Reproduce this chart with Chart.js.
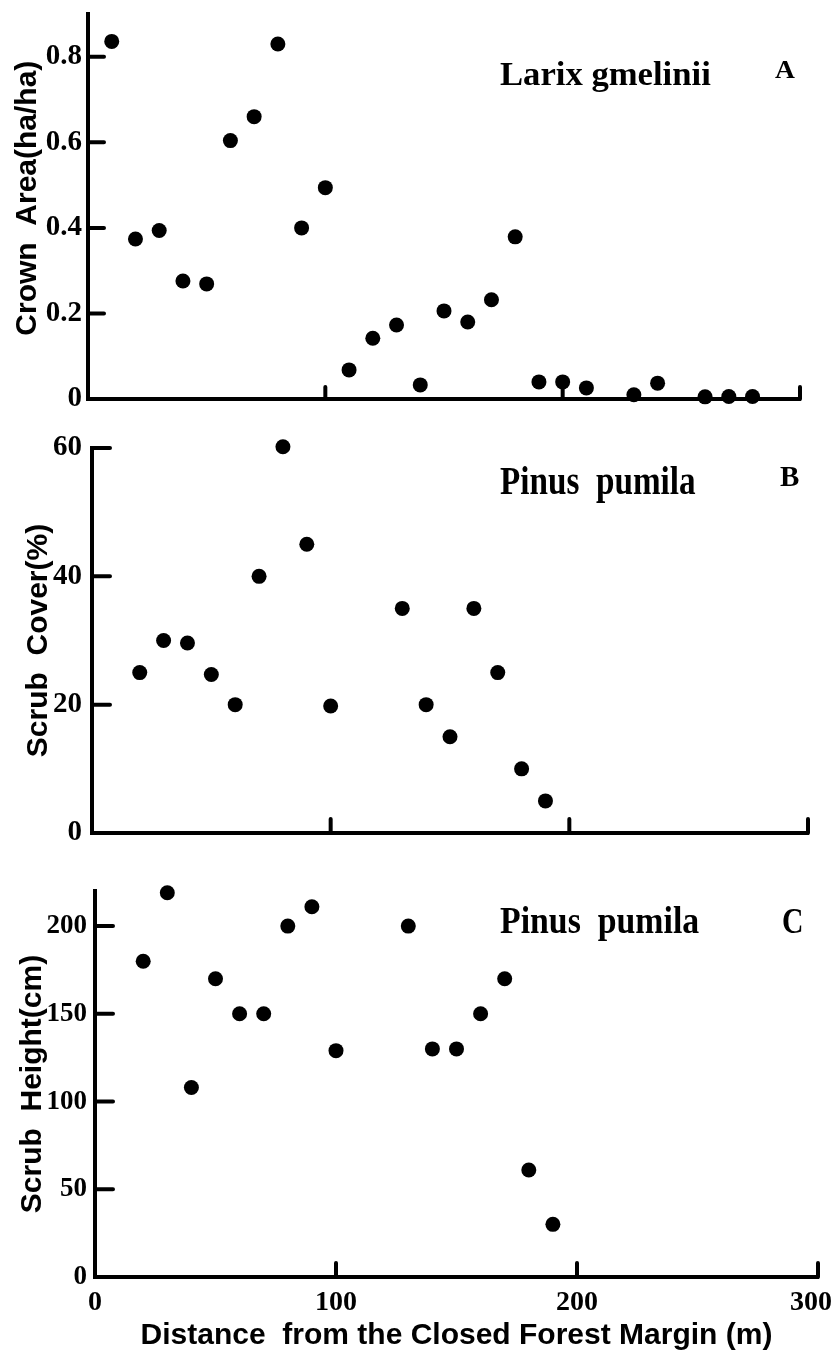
<!DOCTYPE html>
<html>
<head>
<meta charset="utf-8">
<script src="https://cdn.jsdelivr.net/npm/chart.js@4.4.1/dist/chart.umd.min.js"></script>
<style>
  body { margin: 0; background: #fff; width: 834px; height: 1356px; position: relative; overflow: hidden; }
  canvas { position: absolute; left: 0; }
</style>
</head>
<body>
<canvas id="chartA" width="834" height="420" style="top:0"></canvas>
<canvas id="chartB" width="834" height="440" style="top:420px"></canvas>
<canvas id="chartC" width="834" height="496" style="top:860px"></canvas>
<script>
// distances (m) and values
const crownX = [10, 20, 30, 40, 50, 60, 70, 80, 90, 100, 110, 120, 130, 140, 150, 160, 170, 180, 190, 200, 210, 230, 240, 260, 270, 280];
const crownY = [0.836, 0.374, 0.394, 0.276, 0.269, 0.604, 0.66, 0.83, 0.40, 0.494, 0.068, 0.142, 0.173, 0.033, 0.206, 0.18, 0.232, 0.379, 0.04, 0.04, 0.026, 0.01, 0.037, 0.005, 0.006, 0.006];

const coverX = [20, 30, 40, 50, 60, 70, 80, 90, 100, 130, 140, 150, 160, 170, 180, 190];
const coverY = [25, 30, 29.6, 24.7, 20, 40, 60.2, 45, 19.8, 35, 20, 15, 35, 25, 10, 5];

const heightX = [20, 30, 40, 50, 60, 70, 80, 90, 100, 130, 140, 150, 160, 170, 180, 190];
const heightY = [180, 219, 108, 170, 150, 150, 200, 211, 129, 200, 130, 130, 150, 170, 61, 30];

const distTicks = [0, 100, 200, 300];
const crownTicks = [0, 0.2, 0.4, 0.6, 0.8];
const coverTicks = [0, 20, 40, 60];
const heightTicks = [0, 50, 100, 150, 200];

const serif = "'Liberation Serif', 'Times New Roman', serif";
const sans = "'Liberation Sans', Arial, sans-serif";

// short tick marks pointing into the plot
const innerTicks = {
    id: 'innerTicks',
    beforeDatasetsDraw(chart, args, opts) {
        const ctx = chart.ctx;
        const xs = chart.scales.x, ys = chart.scales.y;
        ctx.save();
        ctx.strokeStyle = '#000';
        ctx.lineWidth = opts.width;
        ctx.lineCap = 'round';
        ctx.beginPath();
        opts.y.forEach(v => {
            const py = ys.getPixelForValue(v);
            ctx.moveTo(xs.left, py);
            ctx.lineTo(xs.left + opts.yLen, py);
        });
        opts.x.forEach(v => {
            const px = xs.getPixelForValue(v);
            ctx.moveTo(px, ys.bottom);
            ctx.lineTo(px, ys.bottom - opts.xLen);
        });
        ctx.stroke();
        ctx.restore();
    }
};

// species name and panel letter
const panelText = {
    id: 'panelText',
    afterDraw(chart, args, opts) {
        const ctx = chart.ctx;
        (opts.items || []).forEach(it => {
            ctx.save();
            ctx.font = it.font;
            ctx.fillStyle = '#000';
            ctx.textBaseline = 'alphabetic';
            ctx.translate(it.x, it.y);
            ctx.scale(it.sx || 1, 1);
            ctx.fillText(it.text, 0, 0);
            ctx.restore();
        });
    }
};

function makePanel(id, xs, ys, cfg) {
    const points = xs.map((x, i) => ({ x: x, y: ys[i] }));
    const canvas = document.getElementById(id);
    return new Chart(canvas, {
        type: 'scatter',
        data: {
            datasets: [{
                data: points,
                backgroundColor: '#000',
                borderWidth: 0,
                pointRadius: 7.5,
                pointHoverRadius: 7.5,
                clip: false
            }]
        },
        options: {
            responsive: false,
            animation: false,
            devicePixelRatio: 1,
            layout: { padding: { left: 0, top: cfg.top, right: canvas.width - cfg.right, bottom: 0 } },
            plugins: {
                legend: { display: false },
                tooltip: { enabled: false },
                innerTicks: { x: [100, 200, 300], y: cfg.yTicks.filter(v => v > 0), xLen: cfg.xLen, yLen: cfg.yLen, width: 4 },
                panelText: { items: cfg.labels }
            },
            scales: {
                x: {
                    type: 'linear',
                    min: 0,
                    max: 300,
                    grid: { display: false, drawTicks: false },
                    border: { display: true, color: '#000', width: 4 },
                    afterBuildTicks: s => { s.ticks = distTicks.map(v => ({ value: v })); },
                    afterFit: s => {
                        s.height = canvas.height - cfg.bottom;
                        s.paddingLeft = 0;
                        s.paddingRight = 0;
                    },
                    ticks: {
                        display: cfg.showX,
                        padding: 9,
                        color: '#000',
                        maxRotation: 0,
                        font: { family: serif, size: 28, weight: 'bold' },
                        // last label sits a little left of its tick, as in the print
                        callback: v => v === 300 ? '300  ' : String(v)
                    },
                    title: {
                        display: cfg.showX,
                        text: 'Distance  from the Closed Forest Margin (m)',
                        color: '#000',
                        padding: { top: 0, bottom: 2 },
                        font: { family: sans, size: 30, weight: 'bold' }
                    }
                },
                y: {
                    type: 'linear',
                    min: 0,
                    max: cfg.yMax,
                    grid: { display: false, drawTicks: false },
                    border: { display: true, color: '#000', width: 4 },
                    afterBuildTicks: s => { s.ticks = cfg.yTicks.map(v => ({ value: v })); },
                    afterFit: s => {
                        s.width = cfg.left;
                        s.paddingTop = 0;
                        s.paddingBottom = 0;
                    },
                    ticks: {
                        padding: cfg.tickPad,
                        color: '#000',
                        font: { family: serif, size: cfg.tickSize, weight: 'bold' },
                        callback: v => String(v)
                    },
                    title: {
                        display: true,
                        text: cfg.yTitle,
                        color: '#000',
                        padding: { top: cfg.titlePad, bottom: 0 },
                        font: { family: sans, size: cfg.titleSize, weight: 'bold' }
                    }
                }
            }
        },
        plugins: [innerTicks, panelText]
    });
}

makePanel('chartA', crownX, crownY, {
    left: 88, right: 800, top: 14, bottom: 399, yMax: 0.9,
    yTicks: crownTicks, tickPad: 6, tickSize: 29, yLen: 16, xLen: 12,
    yTitle: '  Crown  Area(ha/ha)', titleSize: 30, titlePad: 10, showX: false,
    labels: [
        { text: 'Larix gmelinii', x: 500, y: 85, font: 'bold 33px ' + serif, sx: 1.05 },
        { text: 'A', x: 775, y: 78, font: 'bold 25px ' + serif, sx: 1.1 }
    ]
});

makePanel('chartB', coverX, coverY, {
    left: 92, right: 808, top: 28, bottom: 413, yMax: 60,
    yTicks: coverTicks, tickPad: 10, tickSize: 29, yLen: 18, xLen: 14,
    yTitle: 'Scrub  Cover(%)', titleSize: 30, titlePad: 21, showX: false,
    labels: [
        { text: 'Pinus  pumila', x: 500, y: 74, font: 'bold 40px ' + serif, sx: 0.83 },
        { text: 'B', x: 780, y: 66, font: 'bold 29px ' + serif }
    ]
});

makePanel('chartC', heightX, heightY, {
    left: 95, right: 818, top: 31, bottom: 417, yMax: 220,
    yTicks: heightTicks, tickPad: 8, tickSize: 27, yLen: 18, xLen: 14,
    yTitle: 'Scrub  Height(cm)', titleSize: 30, titlePad: 15, showX: true,
    labels: [
        { text: 'Pinus  pumila', x: 500, y: 73, font: 'bold 38px ' + serif, sx: 0.89 },
        { text: 'C', x: 782, y: 73, font: 'bold 35px ' + serif, sx: 0.85 }
    ]
});
</script>
</body>
</html>
